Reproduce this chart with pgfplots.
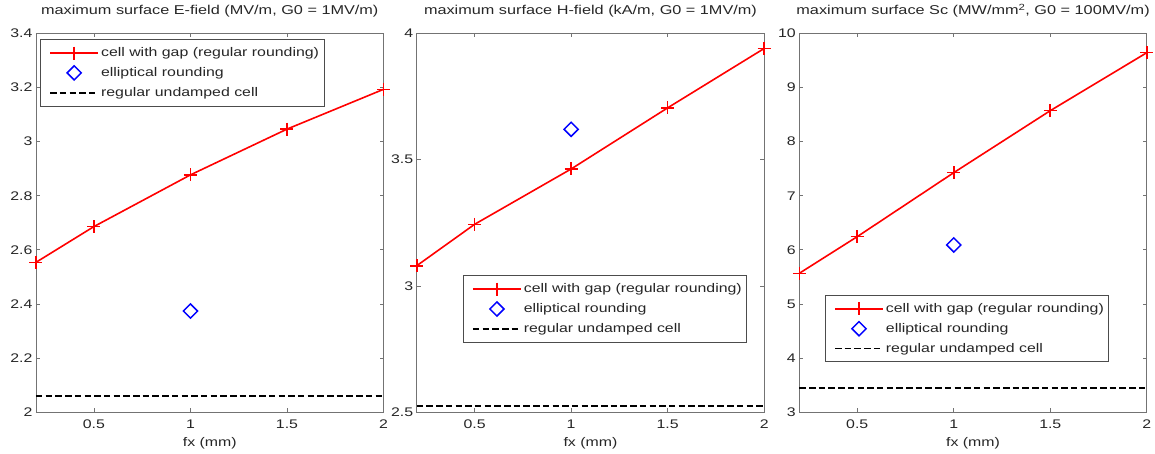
\documentclass[border=0pt]{standalone}
\usepackage{fontspec}
\setmainfont{Liberation Sans}[FakeStretch=1.27]
\usepackage{pgfplots}
\pgfplotsset{compat=1.18}

% one MATLAB-style panel; 1px of the reference = 1pt
\pgfplotsset{
  panel/.style={
    scale only axis, width=347.5pt, height=379pt,
    xmin=0.2, xmax=2, xtick={0.5,1,1.5,2},
    clip=false,
    axis line style={black!55, line width=0.8pt},
    tick style={black!55, line width=0.8pt},
    major tick length=4pt,
    /pgf/number format/assume math mode=true,
    tick label style={font=\fontsize{12.5}{14}\selectfont, text=black!85},
    xticklabel style={anchor=base, yshift=-16pt},
    xlabel={fx (mm)},
    xlabel style={at={(axis description cs:0.5,0)}, anchor=base, yshift=-34pt,
      font=\fontsize{12.5}{14}\selectfont, text=black!85},
    title style={at={(axis description cs:0.5,1)}, anchor=base, yshift=12.5pt,
      inner sep=0pt, font=\fontsize{12.8}{14}\selectfont, text=black!85},
    legend cell align=left,
    legend style={anchor=north west, draw=black!70, line width=0.8pt,
      font=\fontsize{12.5}{14}\selectfont, text=black!85,
      row sep=5.3pt, inner ysep=6pt},
    legend image code/.code={
      \node[inner sep=0pt, draw=none, fill=none] at (-7pt,0pt) {};
      \draw[mark repeat=2,mark phase=2,##1]
      plot coordinates {(0pt,0pt) (24pt,0pt) (48pt,0pt)};},
  },
  gapline/.style={red, line width=1.6pt, mark=+, mark size=6.5pt,
    mark options={line width=1.6pt}},
  ellpt/.style={blue, only marks, mark=square, mark size=5pt,
    mark options={rotate=45, line width=1.5pt}},
  undamped/.style={black, line width=1.8pt, dash pattern=on 6.5pt off 3.2pt},
}

\begin{document}
\begin{tikzpicture}
\path (0pt,0pt) rectangle (1155pt,454pt);

\begin{axis}[panel, at={(36pt,41.7pt)}, anchor=south west,
  ymin=2, ymax=3.4, ytick={2,2.2,2.4,2.6,2.8,3,3.2,3.4},
  title={maximum surface E-field (MV/m, G0 = 1MV/m)},
  legend style={at={(0.012,0.984)}}]
\addplot[gapline] coordinates {(0.2,2.554) (0.5,2.686) (1,2.877) (1.5,3.046) (2,3.193)};
\addplot[ellpt] coordinates {(1,2.374)};
\addplot[undamped] coordinates {(0.2,2.061) (2,2.061)};
\legend{cell with gap (regular rounding), elliptical rounding, regular undamped cell}
\end{axis}

\begin{axis}[panel, at={(416.7pt,41.7pt)}, anchor=south west,
  ymin=2.5, ymax=4, ytick={2.5,3,3.5,4},
  title={maximum surface H-field (kA/m, G0 = 1MV/m)},
  legend style={at={(0.133,0.361)}}]
\addplot[gapline] coordinates {(0.2,3.080) (0.5,3.244) (1,3.463) (1.5,3.705) (2,3.940)};
\addplot[ellpt] coordinates {(1,3.620)};
\addplot[undamped] coordinates {(0.2,2.526) (2,2.526)};
\legend{cell with gap (regular rounding), elliptical rounding, regular undamped cell}
\end{axis}

\begin{axis}[panel, at={(799.3pt,41.7pt)}, anchor=south west,
  ymin=3, ymax=10, ytick={3,4,5,6,7,8,9,10},
  title={maximum surface Sc (MW/mm\textsuperscript{2}, G0 = 100MV/m)},
  legend style={at={(0.074,0.309)}}]
\addplot[gapline] coordinates {(0.2,5.567) (0.5,6.244) (1,7.426) (1.5,8.571) (2,9.642)};
\addplot[ellpt] coordinates {(1,6.090)};
\addplot[undamped] coordinates {(0.2,3.443) (2,3.443)};
\legend{cell with gap (regular rounding), elliptical rounding, regular undamped cell}
\end{axis}
\end{tikzpicture}
\end{document}
